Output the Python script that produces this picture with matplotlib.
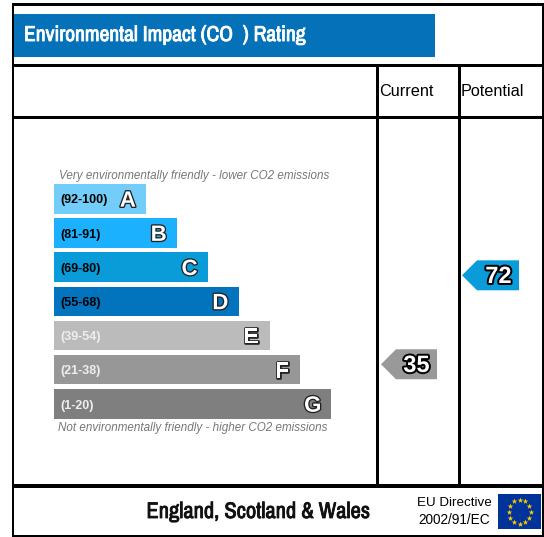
import numpy as np
import matplotlib.pyplot as plt
import matplotlib.patheffects as pe
from matplotlib.patches import Polygon, Rectangle

# dados do grafico
faixas = ["(92-100)", "(81-91)", "(69-80)", "(55-68)", "(39-54)", "(21-38)", "(1-20)"]
letras = ["A", "B", "C", "D", "E", "F", "G"]
comprimentos = [3, 4, 5, 6, 7, 8, 9]
cores = ["#72CEF8", "#1CB1FF", "#0A9CD9", "#0273BD", "#BBBBBB", "#979797", "#7F7F7F"]
cores_faixa = ["black", "black", "black", "black", "#EEEEEE", "#EEEEEE", "#EEEEEE"]
nota_atual = 35
nota_potencial = 72
cor_atual = "#999999"
cor_potencial = "#0A9CD9"

W, H = 544, 537
plt.rcParams["font.family"] = ["Liberation Sans", "DejaVu Sans"]
fonte_estreita = ["Archivo Narrow", "Liberation Sans"]
fig = plt.figure(figsize=(W / 100, H / 100), dpi=100)

# eixo em pixels para a moldura e os textos
ax = fig.add_axes([0, 0, 1, 1])
ax.set_xlim(0, W)
ax.set_ylim(H, 0)
ax.axis("off")


def ret(x0, y0, x1, y1, cor):
    ax.add_patch(Rectangle((x0, y0), x1 - x0, y1 - y0, facecolor=cor, edgecolor="none"))


# moldura
ret(11.5, 3, 544, 5.5, "black")
ret(11.5, 63.5, 544, 67, "black")
ret(11.5, 115.5, 544, 119, "black")
ret(11.5, 484, 544, 488, "black")
ret(11.5, 535, 544, 537, "black")
ret(11.5, 3, 14, 537, "black")
ret(376, 64, 379, 484, "black")
ret(458, 64, 461, 484, "black")
ret(542, 3, 544, 537, "black")

# cabecalho (a fonte estreita nao tem bold, entao engrossa com contorno)
ret(14, 14, 435, 57, "#0471B9")
ax.text(24, 35, "Environmental Impact (CO  ) Rating", color="white", fontsize=15.5,
        va="center", family=fonte_estreita,
        path_effects=[pe.withStroke(linewidth=0.6, foreground="white")])
ax.text(379, 91, "Current", fontsize=11.7, va="center")
ax.text(461, 91, "Potential", fontsize=11.7, va="center")

# rodape
ax.text(258.5, 512, "England, Scotland & Wales", fontsize=16.2, color="#111111",
        ha="center", va="center", family=fonte_estreita,
        path_effects=[pe.withStroke(linewidth=0.6, foreground="#111111")])
ax.text(454, 503.5, "EU Directive", fontsize=9.6, ha="center", va="center")
ax.text(454, 520.5, "2002/91/EC", fontsize=9.8, ha="center", va="center")

# bandeira
ret(498, 494, 541, 529, "#003399")
ang = np.deg2rad(np.arange(0, 360, 30))
ax.scatter(519.5 + 11 * np.cos(ang), 511.5 + 12 * np.sin(ang), marker="*", s=18,
           color="#FFCC00", linewidths=0)

ax.text(59, 175.5, "Very environmentally friendly - lower CO2 emissions", fontsize=8.4,
        style="italic", color="#777777", va="center")
ax.text(58, 427.5, "Not environmentally friendly - higher CO2 emissions", fontsize=8.4,
        style="italic", color="#777777", va="center")

# barras: eixo proprio com escala de 30.8 px por unidade
ax_b = fig.add_axes([54 / W, 1 - 420.9 / H, 277.2 / W, 239.2 / H])
ax_b.set_xlim(0, 9)
ax_b.set_ylim(6.5, -0.5)
ax_b.axis("off")
ax_b.patch.set_alpha(0)
y = np.arange(len(faixas))
ax_b.barh(y, comprimentos, height=0.863, color=cores, edgecolor="none")
contorno = [pe.withStroke(linewidth=1.9, foreground="#222222")]
for i in y:
    ax_b.text(0.22, i + 0.05, faixas[i], color=cores_faixa[i], fontsize=9, fontweight="bold", va="center")
    ax_b.text(comprimentos[i] - 0.6, i + 0.07, letras[i], color="white", fontsize=16, fontweight="bold",
              ha="center", va="center", path_effects=contorno)

# setas: eixo com a escala da nota, x em pixels
px_nota = 2.405
ax_n = fig.add_axes([0, 1 - 446 / H, 1, 238 / H])
ax_n.set_xlim(0, W)
ax_n.set_ylim(1, 100)
ax_n.axis("off")
ax_n.patch.set_alpha(0)
meia = 15 / px_nota


def seta(nota, ponta, fim, cor):
    ax_n.add_patch(Polygon([(ponta, nota), (ponta + 15, nota + meia), (fim, nota + meia),
                            (fim, nota - meia), (ponta + 15, nota - meia)],
                           closed=True, facecolor=cor, edgecolor="none"))
    ax_n.text(fim - 20.5, nota - 0.5, str(nota), color="white", fontsize=17, fontweight="bold",
              ha="center", va="center",
              path_effects=[pe.withStroke(linewidth=2.8, foreground="black")])


seta(nota_atual, 381, 437, cor_atual)
seta(nota_potencial, 462, 519, cor_potencial)

fig.savefig("out.png", dpi=100)
